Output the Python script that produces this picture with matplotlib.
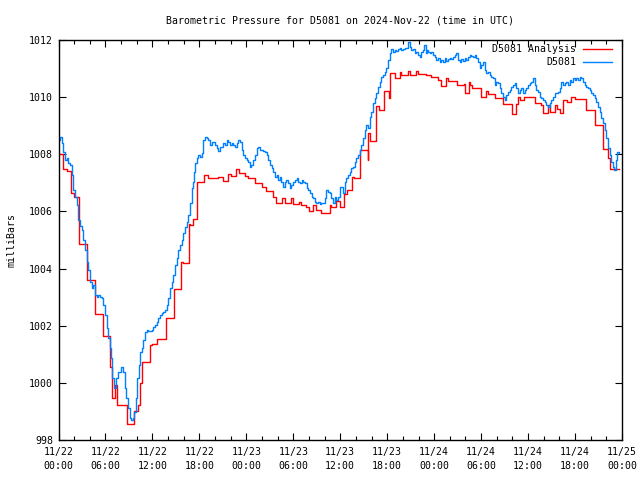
import numpy as np
import matplotlib
matplotlib.use('Agg')
import matplotlib.pyplot as plt
from matplotlib.ticker import MultipleLocator

# hours since 2024-11-22 00:00 UTC, pressure in mb
# analysis (stepped): change points
analysis_hours = [0.0, 0.6, 1.04, 1.6, 1.98, 2.6, 3.6, 4.66, 5.7, 6.57, 6.8, 7.2, 7.47,
                  8.7, 9.64, 10.19, 10.4, 10.7, 11.68, 11.9, 12.62, 13.73, 14.15, 14.7,
                  15.6, 15.94, 16.66, 16.79, 17.2, 17.7, 18.62, 19.04, 20.4, 21.04, 21.68,
                  22.02, 22.62, 23.05, 23.81, 24.24, 25.08, 25.94, 26.57, 27.43, 27.85,
                  28.57, 29.0, 29.77, 29.98, 30.7, 31.04, 31.68, 31.98, 32.53, 32.96,
                  33.6, 34.66, 34.87, 35.5, 35.94, 36.47, 36.88, 37.55, 37.72, 38.58,
                  39.5, 39.58, 39.85, 40.62, 40.96, 41.6, 42.24, 42.41, 42.96, 43.6,
                  43.81, 44.66, 44.87, 45.64, 45.94, 46.92, 47.64, 48.49, 48.92, 49.56,
                  49.77, 50.92, 51.77, 51.98, 52.45, 52.62, 52.88, 54.0, 54.66, 54.87,
                  55.72, 56.79, 57.98, 58.41, 58.7, 58.92, 59.43, 59.56, 60.83, 61.69,
                  61.9, 62.54, 62.83, 63.39, 63.68, 64.02, 64.45, 64.96, 65.51, 65.94,
                  67.43, 68.49, 69.56, 70.2, 70.53, 71.6]
analysis_mb = [1008.0, 1007.5, 1007.42, 1006.63, 1006.52, 1004.86, 1003.6, 1002.4, 1001.65,
               1000.57, 999.46, 999.92, 999.22, 998.55, 999.01, 999.22, 999.98, 1000.72,
               1001.32, 1001.35, 1001.53, 1002.28, 1002.26, 1003.28, 1004.24, 1004.2,
               1005.57, 1005.52, 1005.72, 1007.04, 1007.27, 1007.16, 1007.2, 1007.05,
               1007.3, 1007.23, 1007.47, 1007.36, 1007.25, 1007.16, 1006.98, 1006.87,
               1006.72, 1006.52, 1006.28, 1006.46, 1006.28, 1006.48, 1006.26, 1006.34,
               1006.22, 1006.17, 1006.01, 1006.22, 1006.05, 1005.93, 1006.22, 1006.17,
               1006.36, 1006.15, 1006.6, 1006.75, 1007.22, 1007.16, 1008.15, 1007.8,
               1008.73, 1008.46, 1009.69, 1009.55, 1010.21, 1009.98, 1010.86, 1010.66,
               1010.87, 1010.78, 1010.93, 1010.78, 1010.9, 1010.8, 1010.76, 1010.69,
               1010.6, 1010.4, 1010.68, 1010.56, 1010.43, 1010.45, 1010.13, 1010.52,
               1010.43, 1010.32, 1009.99, 1010.2, 1010.1, 1009.98, 1009.75, 1009.41,
               1009.75, 1010.02, 1009.9, 1010.02, 1010.0, 1009.78, 1009.72, 1009.43,
               1009.72, 1009.47, 1009.72, 1009.58, 1009.43, 1009.9, 1009.84, 1009.99,
               1009.93, 1009.55, 1009.03, 1008.19, 1007.86, 1007.47, 1007.47]

# station observations
obs_hours = [0.0, 0.19, 0.4, 0.6, 0.83, 1.04, 1.17, 1.47, 1.68, 1.89, 2.11, 2.32, 2.53,
             2.74, 2.96, 3.17, 3.38, 3.6, 3.81, 4.02, 4.23, 4.45, 4.66, 4.87, 5.08, 5.3,
             5.51, 5.72, 5.94, 6.15, 6.36, 6.57, 6.7, 6.87, 7.04, 7.2, 7.41, 7.62, 7.83,
             8.04, 8.26, 8.47, 8.68, 8.89, 9.1, 9.32, 9.53, 9.66, 9.77, 9.89, 10.06,
             10.23, 10.4, 10.62, 10.83, 11.04, 11.26, 11.47, 11.68, 11.89, 12.11, 12.32,
             12.53, 12.74, 12.96, 13.17, 13.38, 13.6, 13.81, 14.02, 14.23, 14.45, 14.66,
             14.87, 15.09, 15.3, 15.51, 15.73, 15.94, 16.15, 16.36, 16.57, 16.79, 17.0,
             17.13, 17.3, 17.47, 17.64, 17.86, 18.07, 18.28, 18.49, 18.71, 18.92, 19.13,
             19.35, 19.56, 19.77, 19.98, 20.2, 20.41, 20.62, 20.83, 21.05, 21.26, 21.47,
             21.69, 21.9, 22.11, 22.32, 22.54, 22.75, 22.96, 23.18, 23.39, 23.6, 23.81,
             24.03, 24.24, 24.45, 24.66, 24.88, 25.09, 25.3, 25.52, 25.73, 25.94, 26.15,
             26.37, 26.58, 26.79, 27.0, 27.22, 27.43, 27.64, 27.86, 28.07, 28.28, 28.49,
             28.71, 28.92, 29.13, 29.34, 29.56, 29.77, 29.98, 30.2, 30.41, 30.62, 30.84,
             31.05, 31.26, 31.47, 31.69, 31.9, 32.11, 32.33, 32.54, 32.75, 32.96, 33.18,
             33.39, 33.6, 33.81, 34.03, 34.24, 34.45, 34.67, 34.88, 35.09, 35.3, 35.52,
             35.73, 35.94, 36.15, 36.37, 36.58, 36.79, 37.01, 37.22, 37.43, 37.64, 37.86,
             38.07, 38.28, 38.49, 38.71, 38.92, 39.13, 39.34, 39.56, 39.77, 39.98, 40.19,
             40.41, 40.62, 40.83, 41.05, 41.26, 41.47, 41.69, 41.9, 42.11, 42.32, 42.54,
             42.75, 42.96, 43.17, 43.39, 43.6, 43.81, 44.03, 44.24, 44.45, 44.66, 44.88,
             45.09, 45.3, 45.51, 45.73, 45.94, 46.15, 46.37, 46.58, 46.7, 46.92, 47.09,
             47.22, 47.43, 47.64, 47.86, 48.07, 48.28, 48.49, 48.71, 48.92, 49.13, 49.35,
             49.56, 49.77, 49.98, 50.2, 50.41, 50.62, 50.83, 51.05, 51.26, 51.47, 51.69,
             51.9, 52.11, 52.33, 52.54, 52.75, 52.96, 53.17, 53.39, 53.6, 53.81, 54.02,
             54.24, 54.45, 54.66, 54.87, 55.09, 55.3, 55.51, 55.73, 55.94, 56.15, 56.36,
             56.58, 56.79, 57.0, 57.21, 57.43, 57.64, 57.85, 58.07, 58.28, 58.49, 58.7,
             58.92, 59.13, 59.34, 59.56, 59.77, 59.98, 60.19, 60.41, 60.62, 60.83, 61.04,
             61.26, 61.47, 61.68, 61.9, 62.11, 62.32, 62.53, 62.75, 62.96, 63.17, 63.39,
             63.6, 63.81, 64.02, 64.24, 64.45, 64.66, 64.88, 65.09, 65.3, 65.51, 65.73,
             65.94, 66.15, 66.36, 66.58, 66.79, 67.0, 67.21, 67.43, 67.64, 67.85, 68.07,
             68.28, 68.49, 68.7, 68.92, 69.13, 69.34, 69.56, 69.77, 69.98, 70.19, 70.41,
             70.62, 70.83, 71.04, 71.26, 71.39, 71.6]
obs_mb = [1008.5, 1008.62, 1008.38, 1008.09, 1007.8, 1007.86, 1007.68, 1007.62, 1007.27,
          1006.75, 1006.52, 1006.22, 1005.7, 1005.5, 1005.35, 1005.0, 1004.65, 1004.24,
          1003.95, 1003.54, 1003.31, 1003.43, 1003.07, 1003.02, 1003.07, 1003.02, 1002.96,
          1002.72, 1002.37, 1001.91, 1001.56, 1001.21, 1000.86, 1000.16, 999.81, 999.81,
          1000.16, 1000.39, 1000.39, 1000.57, 1000.39, 999.81, 999.46, 999.11, 998.76,
          998.7, 998.76, 998.99, 998.99, 999.46, 1000.16, 1000.62, 1001.09, 1001.21,
          1001.5, 1001.79, 1001.85, 1001.82, 1001.82, 1001.85, 1001.97, 1002.02, 1002.14,
          1002.26, 1002.37, 1002.43, 1002.49, 1002.55, 1002.72, 1002.96, 1003.31, 1003.54,
          1003.77, 1004.12, 1004.36, 1004.65, 1004.82, 1005.0, 1005.23, 1005.47, 1005.64,
          1005.87, 1006.28, 1006.81, 1007.04, 1007.39, 1007.68, 1007.86, 1007.97, 1007.92,
          1008.03, 1008.5, 1008.62, 1008.56, 1008.5, 1008.33, 1008.44, 1008.44, 1008.33,
          1008.21, 1008.12, 1008.27, 1008.27, 1008.38, 1008.33, 1008.5, 1008.44, 1008.33,
          1008.38, 1008.33, 1008.27, 1008.38, 1008.5, 1008.44, 1008.15, 1007.97, 1007.86,
          1007.8, 1007.74, 1007.57, 1007.62, 1007.8, 1007.97, 1008.21, 1008.27, 1008.15,
          1008.15, 1008.12, 1008.09, 1007.97, 1007.8, 1007.62, 1007.51, 1007.39, 1007.22,
          1007.28, 1007.1, 1007.22, 1007.04, 1006.87, 1007.04, 1007.1, 1006.98, 1006.81,
          1006.93, 1007.04, 1007.1, 1007.16, 1007.04, 1006.98, 1007.1, 1007.04, 1006.98,
          1006.81, 1006.75, 1006.63, 1006.52, 1006.46, 1006.34, 1006.28, 1006.34, 1006.26,
          1006.31, 1006.28, 1006.46, 1006.75, 1006.69, 1006.63, 1006.46, 1006.28, 1006.52,
          1006.4, 1006.52, 1006.87, 1006.87, 1006.63, 1007.04, 1007.16, 1007.27, 1007.39,
          1007.51, 1007.57, 1007.74, 1007.86, 1007.97, 1008.15, 1008.33, 1008.56, 1008.85,
          1009.03, 1008.91, 1009.32, 1009.49, 1009.78, 1009.96, 1010.13, 1010.37, 1010.54,
          1010.72, 1010.78, 1010.89, 1011.01, 1011.3, 1011.53, 1011.68, 1011.59, 1011.65,
          1011.61, 1011.69, 1011.71, 1011.65, 1011.69, 1011.71, 1011.73, 1011.92, 1011.77,
          1011.65, 1011.69, 1011.53, 1011.59, 1011.48, 1011.42, 1011.59, 1011.65, 1011.82,
          1011.53, 1011.65, 1011.59, 1011.53, 1011.59, 1011.48, 1011.42, 1011.3, 1011.36,
          1011.24, 1011.3, 1011.22, 1011.36, 1011.27, 1011.33, 1011.36, 1011.33, 1011.42,
          1011.48, 1011.53, 1011.3, 1011.24, 1011.33, 1011.27, 1011.36, 1011.3, 1011.42,
          1011.48, 1011.45, 1011.42, 1011.48, 1011.36, 1011.24, 1011.01, 1011.12, 1011.22,
          1010.95, 1010.83, 1010.89, 1010.78, 1010.72, 1010.66, 1010.42, 1010.54, 1010.48,
          1010.31, 1010.13, 1010.02, 1009.9, 1010.08, 1010.19, 1010.25, 1010.37, 1010.42,
          1010.48, 1010.31, 1010.13, 1010.25, 1010.31, 1010.13, 1010.25, 1010.31, 1010.42,
          1010.48, 1010.54, 1010.66, 1010.42, 1010.25, 1010.19, 1010.02, 1009.96, 1009.9,
          1009.84, 1009.73, 1009.67, 1009.78, 1009.9, 1010.02, 1010.13, 1010.13, 1010.19,
          1010.31, 1010.54, 1010.42, 1010.48, 1010.54, 1010.42, 1010.6, 1010.54, 1010.66,
          1010.6, 1010.68, 1010.6, 1010.72, 1010.66, 1010.54, 1010.42, 1010.37, 1010.31,
          1010.25, 1010.13, 1010.08, 1009.96, 1009.84, 1009.67, 1009.49, 1009.26, 1009.08,
          1008.85, 1008.56, 1008.21, 1007.97, 1007.74, 1007.57, 1007.45, 1007.8, 1008.09,
          1008.03]

tick_hours = [0, 6, 12, 18, 24, 30, 36, 42, 48, 54, 60, 66, 72]
tick_labels = ['11/22\n00:00', '11/22\n06:00', '11/22\n12:00', '11/22\n18:00',
               '11/23\n00:00', '11/23\n06:00', '11/23\n12:00', '11/23\n18:00',
               '11/24\n00:00', '11/24\n06:00', '11/24\n12:00', '11/24\n18:00',
               '11/25\n00:00']

plt.rcParams['font.family'] = ['DejaVu Sans Mono']
plt.rcParams['font.size'] = 7.1

fig = plt.figure(figsize=(6.4, 4.8), dpi=100)
ax = fig.add_axes([58.5 / 640, 40 / 480, 563.5 / 640, 400 / 480])

ax.step(analysis_hours, analysis_mb, where='post', color='#ff0000', lw=1.0,
        label='D5081 Analysis')
ax.step(obs_hours, obs_mb, where='post', color='#0080ff', lw=1.0, label='D5081')

ax.set_xlim(0, 72)
ax.set_ylim(998, 1012)
ax.set_xticks(tick_hours)
ax.set_xticklabels(tick_labels, linespacing=1.45)
ax.xaxis.set_minor_locator(MultipleLocator(2))
ax.yaxis.set_major_locator(MultipleLocator(2))

ax.tick_params(which='both', direction='in', top=True, right=True, width=0.8,
               colors='black', pad=4)
ax.tick_params(which='major', length=5)
ax.tick_params(which='minor', length=3)
ax.tick_params(axis='y', which='minor', left=False, right=False)
ax.tick_params(axis='x', pad=5)
for s in ax.spines.values():
    s.set_linewidth(1.0)

ax.set_title('Barometric Pressure for D5081 on 2024-Nov-22 (time in UTC)',
             fontsize=7.1, pad=12)
ax.set_ylabel('milliBars')
ax.yaxis.set_label_coords(-0.075, 0.5)

ax.legend(loc='upper right', bbox_to_anchor=(0.983, 0.99), frameon=False,
          markerfirst=False, handlelength=3.0, handletextpad=0.7,
          labelspacing=0.35, borderpad=0, borderaxespad=0)

fig.savefig('out.png', dpi=100)
